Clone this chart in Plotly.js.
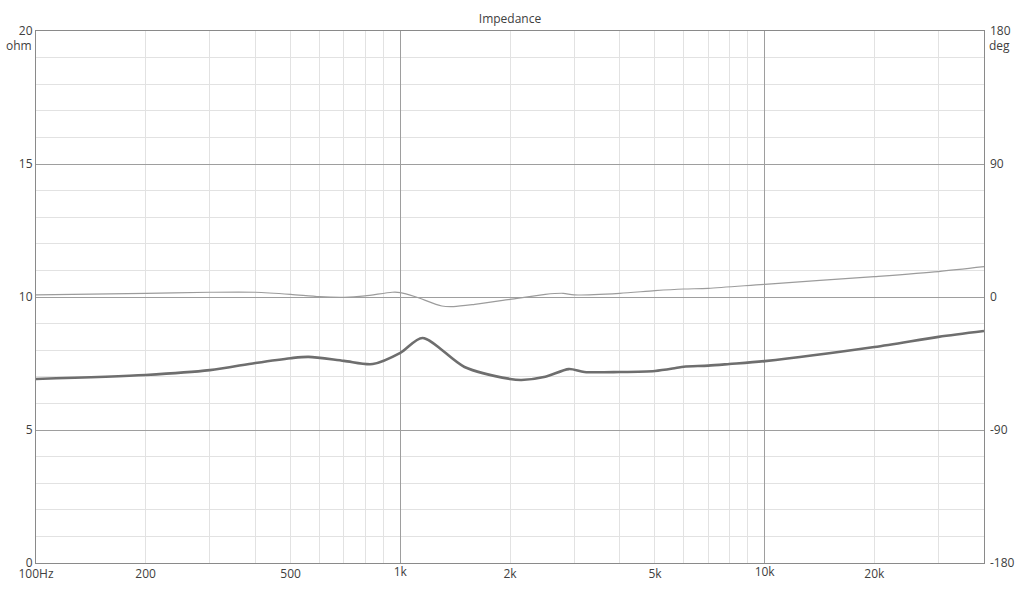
<!DOCTYPE html>
<html>
<head>
<meta charset="utf-8">
<script src="https://cdn.plot.ly/plotly-3.0.1.min.js"></script>
<style>
  html, body { margin: 0; padding: 0; background: #fff; }
  #chart { width: 1024px; height: 604px; }
</style>
</head>
<body>
<div id="chart"></div>
<script>
// impedance magnitude (ohm)
var impFreq = [100, 200, 300, 400, 500, 560, 700, 840, 1000, 1150, 1500, 2000, 2150, 2500, 2900, 3200, 4000, 5000, 5700, 6000, 7000, 8000, 10000, 20000, 30000, 40000];
var impOhm = [6.92, 7.07, 7.25, 7.52, 7.7, 7.75, 7.6, 7.48, 7.9, 8.46, 7.37, 6.92, 6.88, 7.0, 7.29, 7.18, 7.18, 7.22, 7.33, 7.38, 7.42, 7.48, 7.59, 8.12, 8.5, 8.72];

// impedance phase (deg)
var phaseFreq = [100, 200, 300, 400, 500, 600, 700, 800, 950, 1000, 1100, 1300, 1400, 1600, 2000, 2500, 2800, 3000, 4000, 5000, 6000, 7000, 10000, 20000, 30000, 40000];
var phaseDeg = [1.4, 2.5, 3.2, 3.2, 1.8, 0.2, -0.2, 0.7, 3.2, 3.0, 0.2, -6.1, -6.5, -5.0, -1.6, 1.8, 2.5, 1.4, 2.5, 4.3, 5.4, 5.9, 8.6, 13.8, 17.2, 20.5];

// axis ticks
var minorFreqTicks = [100, 200, 300, 400, 500, 600, 700, 800, 900, 2000, 3000, 4000, 5000, 6000, 7000, 8000, 9000, 20000, 30000];
var minorFreqLabels = ['100Hz', '200', '', '', '500', '', '', '', '', '2k', '', '', '5k', '', '', '', '', '20k', ''];
var majorFreqTicks = [1000, 10000];
var majorFreqLabels = ['1k', '10k'];
var ohmTicks = [0, 5, 10, 15, 20];
var degTicks = [-180, -90, 0, 90, 180];
var degLabels = ['-180', '-90', '0', '90', '180'];

var tickFont = { family: 'Open Sans, sans-serif', size: 12, color: '#404040' };
var xRange = [Math.log10(100), Math.log10(40000)];

var data = [
  {
    x: phaseFreq,
    y: phaseDeg,
    xaxis: 'x2',
    yaxis: 'y2',
    type: 'scatter',
    mode: 'lines',
    line: { color: '#9c9c9c', width: 1.2, shape: 'spline', smoothing: 0.8 },
    hoverinfo: 'skip'
  },
  {
    x: impFreq,
    y: impOhm,
    type: 'scatter',
    mode: 'lines',
    line: { color: '#6e6e6e', width: 2.6, shape: 'spline', smoothing: 0.8 },
    hoverinfo: 'skip'
  }
];

var layout = {
  width: 1024,
  height: 604,
  showlegend: false,
  paper_bgcolor: '#ffffff',
  plot_bgcolor: '#ffffff',
  margin: { l: 36, r: 40, t: 31, b: 41 },
  title: {
    text: 'Impedance',
    font: { family: 'Open Sans, sans-serif', size: 12, color: '#404040' },
    xref: 'paper',
    x: 0.5,
    yref: 'container',
    y: 1 - 19 / 604,
    yanchor: 'middle'
  },
  xaxis: {
    type: 'log',
    range: xRange,
    tickvals: minorFreqTicks,
    ticktext: minorFreqLabels,
    ticks: '',
    showgrid: true,
    gridcolor: '#e2e2e2',
    gridwidth: 1,
    zeroline: false,
    showline: true,
    mirror: true,
    linecolor: '#8a8a8a',
    linewidth: 1,
    tickfont: tickFont
  },
  xaxis2: {
    type: 'log',
    range: xRange,
    overlaying: 'x',
    anchor: 'y',
    side: 'bottom',
    tickvals: majorFreqTicks,
    ticktext: majorFreqLabels,
    ticks: '',
    showgrid: true,
    gridcolor: '#9e9e9e',
    gridwidth: 1,
    zeroline: false,
    showline: false,
    tickfont: tickFont
  },
  yaxis: {
    range: [0, 20],
    tickvals: ohmTicks,
    ticks: '',
    showgrid: true,
    gridcolor: '#9e9e9e',
    gridwidth: 1,
    minor: { dtick: 1, showgrid: true, gridcolor: '#e2e2e2', gridwidth: 1, ticks: '' },
    zeroline: false,
    showline: true,
    mirror: true,
    linecolor: '#8a8a8a',
    linewidth: 1,
    tickfont: tickFont
  },
  yaxis2: {
    range: [-180, 180],
    overlaying: 'y',
    anchor: 'x',
    side: 'right',
    tickvals: degTicks,
    ticktext: degLabels,
    ticks: '',
    ticklabelstandoff: 5,
    showgrid: false,
    zeroline: false,
    showline: false,
    tickfont: tickFont
  },
  annotations: [
    {
      xref: 'paper', yref: 'paper',
      x: 0, y: 1,
      xanchor: 'right', yanchor: 'top',
      xshift: -2, yshift: -4,
      text: 'ohm',
      showarrow: false,
      font: tickFont
    },
    {
      xref: 'paper', yref: 'paper',
      x: 1, y: 1,
      xanchor: 'left', yanchor: 'top',
      xshift: 3, yshift: -4,
      text: 'deg',
      showarrow: false,
      font: tickFont
    }
  ]
};

Plotly.newPlot('chart', data, layout, { staticPlot: true, displayModeBar: false });
</script>
</body>
</html>
